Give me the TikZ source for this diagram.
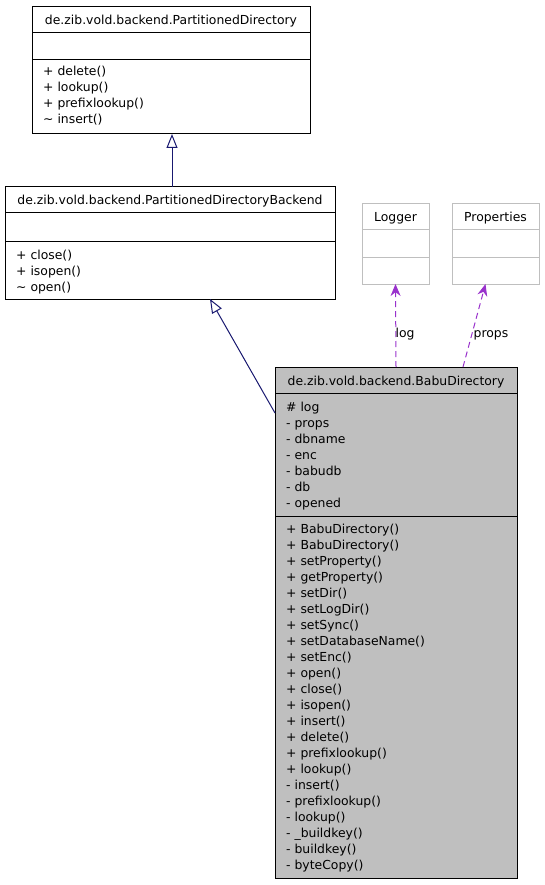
\documentclass[tikz,border=0pt]{standalone}
\usepackage{fontspec}
\setmainfont{DejaVu Sans}
\usetikzlibrary{arrows.meta,calc}
\definecolor{inh}{RGB}{25,25,112}
\definecolor{dep}{RGB}{153,50,204}
\definecolor{lgray}{RGB}{191,191,191}
\definecolor{bfill}{RGB}{191,191,191}
\begin{document}
\begin{tikzpicture}[x=1pt,y=-1pt,
  font=\fontsize{12.4}{16}\selectfont,
  cls/.style={draw=black, line width=1pt, rectangle, anchor=north west, inner sep=0pt, outer sep=0pt},
  ext/.style={cls, draw=lgray},
  txt/.style={anchor=base west, inner sep=0pt},
  ttl/.style={anchor=base, inner sep=0pt},
  inhline/.style={draw=inh, line width=1pt, -{Triangle[open, length=14pt, width=11pt, fill=white]}},
  depline/.style={draw=dep, line width=1pt, dash pattern=on 6pt off 4pt, -{Stealth[length=12pt, width=10pt]}}]
\useasboundingbox (0,0) rectangle (544,885);

% PartitionedDirectory
\node[cls, minimum width=278pt, minimum height=127pt] (pd) at (32,7) {};
\draw[line width=1pt] ($(pd.north west)+(0,26)$) -- ($(pd.north east)+(0,26)$);
\draw[line width=1pt] ($(pd.north west)+(0,53)$) -- ($(pd.north east)+(0,53)$);
\node[ttl] (pdt) at (171,24.5) {de.zib.vold.backend.PartitionedDirectory};
\foreach \t [count=\i] in {+ delete(), + lookup(), + prefixlookup(), \textasciitilde\ insert()}
  \node[txt] (pdm\i) at (43,76+16*\i-16) {\t};

% PartitionedDirectoryBackend
\node[cls, minimum width=330pt, minimum height=112pt] (pdb) at (5,187) {};
\draw[line width=1pt] ($(pdb.north west)+(0,26)$) -- ($(pdb.north east)+(0,26)$);
\draw[line width=1pt] ($(pdb.north west)+(0,54)$) -- ($(pdb.north east)+(0,54)$);
\node[ttl] (pdbt) at (170,205) {de.zib.vold.backend.PartitionedDirectoryBackend};
\foreach \t [count=\i] in {+ close(), + isopen(), \textasciitilde\ open()}
  \node[txt] (pdbm\i) at (16,259+16*\i-16) {\t};

% Logger
\node[ext, minimum width=67pt, minimum height=80pt] (logger) at (362,204) {};
\draw[lgray, line width=1pt] ($(logger.north west)+(0,26)$) -- ($(logger.north east)+(0,26)$);
\draw[lgray, line width=1pt] ($(logger.north west)+(0,53)$) -- ($(logger.north east)+(0,53)$);
\node[ttl] (loggert) at (395.5,222) {Logger};

% Properties
\node[ext, minimum width=87pt, minimum height=80pt] (props) at (452,204) {};
\draw[lgray, line width=1pt] ($(props.north west)+(0,26)$) -- ($(props.north east)+(0,26)$);
\draw[lgray, line width=1pt] ($(props.north west)+(0,53)$) -- ($(props.north east)+(0,53)$);
\node[ttl] (propst) at (495.5,222) {Properties};

% BabuDirectory
\node[cls, fill=bfill, minimum width=242pt, minimum height=511pt] (babu) at (275,367) {};
\draw[line width=1pt] ($(babu.north west)+(0,26)$) -- ($(babu.north east)+(0,26)$);
\draw[line width=1pt] ($(babu.north west)+(0,149)$) -- ($(babu.north east)+(0,149)$);
\node[ttl] (babut) at (396,385) {de.zib.vold.backend.BabuDirectory};
\foreach \t [count=\i] in {\# log, - props, - dbname, - enc, - babudb, - db, - opened}
  \node[txt] (baba\i) at (286,411+16*\i-16) {\t};
\foreach \t [count=\i] in {+ BabuDirectory(), + BabuDirectory(), + setProperty(), + getProperty(),
  + setDir(), + setLogDir(), + setSync(), + setDatabaseName(), + setEnc(), + open(), + close(),
  + isopen(), + insert(), + delete(), + prefixlookup(), + lookup(), - insert(), - prefixlookup(),
  - lookup(), - \_buildkey(), - buildkey(), - byteCopy()}
  \node[txt] (babm\i) at (286,533+16*\i-16) {\t};

% connectors
\coordinate (pdbtop) at ($(pdb.north)+(2,0)$);
\coordinate (pdbot) at ($(pd.south)+(1,0)$);
\draw[inhline] (pdbtop) -- (pdbot);
\coordinate (bsrc) at ($(babu.north west)+(0,46)$);
\coordinate (bdst) at ($(pdb.south)+(40,0)$);
\draw[inhline] (bsrc) -- (bdst);
\coordinate (logsrc) at ($(babu.north west)+(121,0)$);
\draw[depline] (logsrc) -- (logger.south);
\coordinate (propsrc) at ($(babu.north west)+(188,0)$);
\coordinate (propdst) at ($(props.south)+(-10,0)$);
\draw[depline] (propsrc) -- (propdst);
\node[ttl] (loglbl) at (405,337) {log};
\node[ttl] (proplbl) at (491,337) {props};
\end{tikzpicture}
\end{document}
